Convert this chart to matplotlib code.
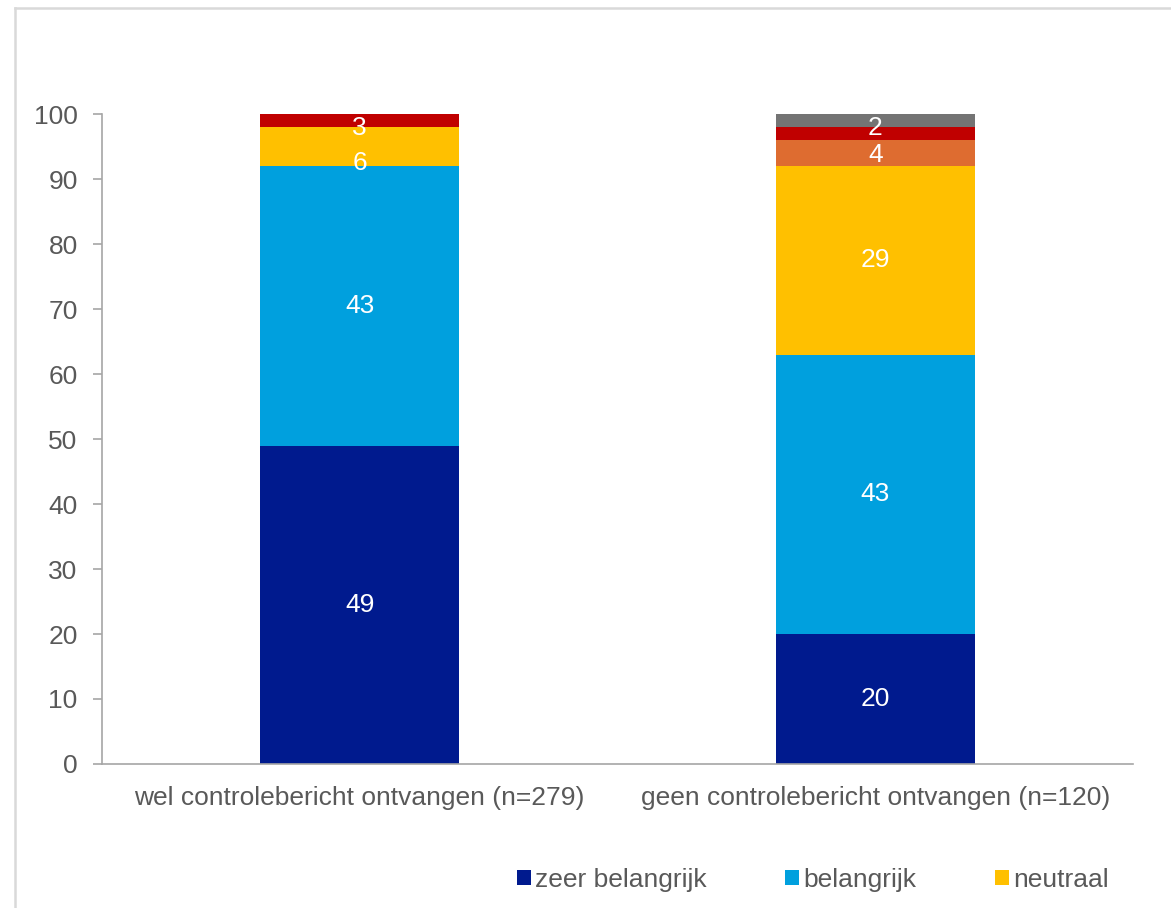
import numpy as np
import matplotlib.pyplot as plt
from matplotlib.patches import Patch
from matplotlib.lines import Line2D

plt.rcParams['font.family'] = ['Liberation Sans', 'DejaVu Sans']

# gegevens
groepen = ['wel controlebericht ontvangen (n=279)',
           'geen controlebericht ontvangen (n=120)']
reeksen = ['zeer belangrijk', 'belangrijk', 'neutraal',
           'onbelangrijk', 'zeer onbelangrijk', 'weet niet']
zeer_belangrijk = [49, 20]
belangrijk = [43, 43]
neutraal = [6, 29]
onbelangrijk = [0, 4]
zeer_onbelangrijk = [3, 2]
weet_niet = [0, 2]
labels_tonen = [True, True, True, True, True, False]

kleuren = ['#001A8E', '#00A0DE', '#FFC000', '#DE6C30', '#C00000', '#747474']
tekstkleur = '#595959'
askleur = '#A6A6A6'
fs = 19

waarden = np.array([zeer_belangrijk, belangrijk, neutraal,
                    onbelangrijk, zeer_onbelangrijk, weet_niet], dtype=float)
# verschuiving van de kleine labels bovenin (in y-eenheden)
label_dy = {(2, 0): -2.5, (4, 0): -1.2, (3, 1): -0.3, (4, 1): 0.9}

fig = plt.figure(figsize=(11.71, 9.08), dpi=100)
ax = fig.add_axes([0.0871, 0.1586, 0.8804, 0.7158])

x = np.arange(len(groepen))
onder = np.zeros(len(groepen))
for i, naam in enumerate(reeksen):
    ax.bar(x, waarden[i], bottom=onder, width=0.386, color=kleuren[i],
           label=naam, zorder=2)
    if labels_tonen[i]:
        for j in range(len(groepen)):
            v = waarden[i, j]
            if v > 0:
                yc = min(onder[j] + v / 2, (onder[j] + 100) / 2)
                yc += label_dy.get((i, j), 0)
                ax.text(x[j], yc, f'{v:.0f}', ha='center', va='center',
                        color='white', fontsize=fs, zorder=3)
    onder += waarden[i]

ax.set_xlim(-0.5, 1.5)
ax.set_ylim(0, 100)
ax.set_yticks(range(0, 101, 10))
ax.set_xticks(x)
ax.set_xticklabels(groepen)

for s in ['top', 'right']:
    ax.spines[s].set_visible(False)
for s in ['left', 'bottom']:
    ax.spines[s].set_color(askleur)
    ax.spines[s].set_linewidth(1.2)
ax.tick_params(axis='y', colors=askleur, labelcolor=tekstkleur,
               labelsize=fs, length=6.5, width=1.2, pad=11)
ax.tick_params(axis='x', length=0, labelcolor=tekstkleur,
               labelsize=fs, pad=16)

# legenda onderaan
handles = [Patch(facecolor=kleuren[i], edgecolor='none') for i in range(3)]
leg = fig.legend(handles, reeksen[:3], loc='center left',
                 bbox_to_anchor=(517 / 1171, 0.031), ncol=3, frameon=False,
                 fontsize=fs, handlelength=0.52, handleheight=0.52,
                 handletextpad=0.15, columnspacing=3.0, borderpad=0,
                 borderaxespad=0)
for t in leg.get_texts():
    t.set_color(tekstkleur)

# grijze kader rond de grafiek
fig.add_artist(Line2D([15 / 1171, 15 / 1171], [0, 1 - 8 / 908],
                      transform=fig.transFigure, color='#D9D9D9', lw=1.8))
fig.add_artist(Line2D([15 / 1171, 1], [1 - 8 / 908, 1 - 8 / 908],
                      transform=fig.transFigure, color='#D9D9D9', lw=1.8))

fig.savefig('out.png', dpi=100)
